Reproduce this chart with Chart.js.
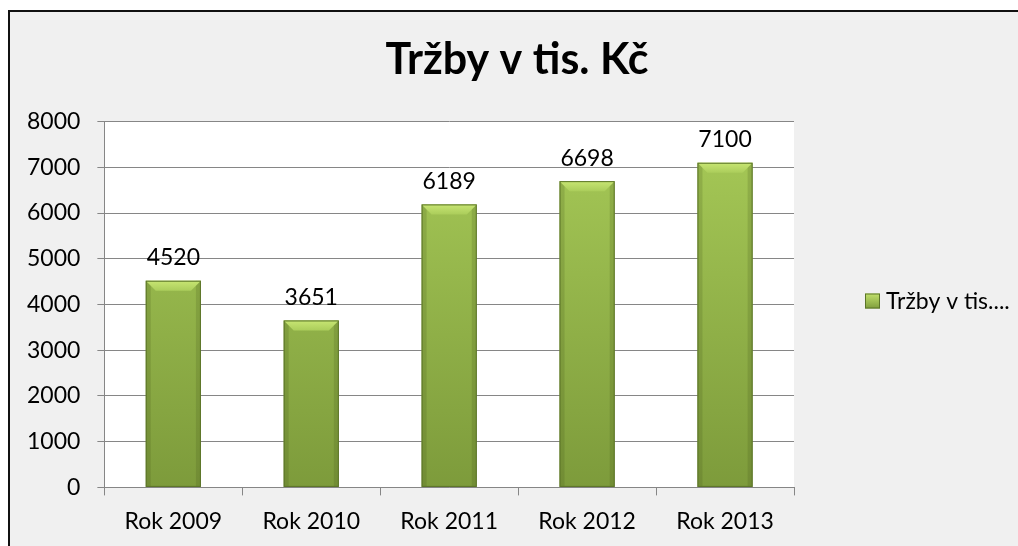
<!DOCTYPE html>
<html>
<head>
<meta charset="utf-8">
<script src="https://cdn.jsdelivr.net/npm/chart.js@4.4.1/dist/chart.umd.min.js"></script>
<style>
  html, body { margin: 0; padding: 0; background: #ffffff; overflow: hidden; }
  #frame {
    position: absolute; left: 8px; top: 10px;
    width: 1014px; height: 560px;
    border: 2px solid #111111;
    background: #f0f0f0;
  }
  #chart { display: block; }
</style>
</head>
<body>
<div id="frame"><canvas id="chart" width="1014" height="560"></canvas></div>
<script>
const categories = ['Rok 2009', 'Rok 2010', 'Rok 2011', 'Rok 2012', 'Rok 2013'];
const revenue = [4520, 3651, 6189, 6698, 7100];
const seriesName = 'Tržby v tis. Kč';
const legendText = 'Tržby v tis....';
const yMax = 8000;
const yStep = 1000;

const FONT = 'Lato, "Open Sans", sans-serif';

// white plot area behind the bars
const plotBackground = {
    id: 'plotBackground',
    beforeDraw(chart) {
        const { ctx, chartArea } = chart;
        ctx.save();
        ctx.fillStyle = '#ffffff';
        ctx.fillRect(chartArea.left, chartArea.top, chartArea.right - chartArea.left, chartArea.bottom - chartArea.top);
        ctx.restore();
    }
};

// bevel look of the excel bars
const barBevel = {
    id: 'barBevel',
    afterDatasetsDraw(chart) {
        const ctx = chart.ctx;
        const meta = chart.getDatasetMeta(0);
        meta.data.forEach(bar => {
            const left = bar.x - bar.width / 2;
            const right = bar.x + bar.width / 2;
            const top = bar.y;
            const bottom = bar.base;
            const b = 10;
            const s = 5;
            ctx.save();
            // side shading
            ctx.fillStyle = 'rgba(60, 80, 20, 0.18)';
            ctx.fillRect(left, top, s, bottom - top);
            ctx.fillRect(right - s, top, s, bottom - top);
            // top bevel
            const g = ctx.createLinearGradient(0, top, 0, top + b);
            g.addColorStop(0, '#c8e673');
            g.addColorStop(1, '#abcd5b');
            ctx.fillStyle = g;
            ctx.beginPath();
            ctx.moveTo(left, top);
            ctx.lineTo(right, top);
            ctx.lineTo(right - b, top + b);
            ctx.lineTo(left + b, top + b);
            ctx.closePath();
            ctx.fill();
            // outline
            ctx.strokeStyle = '#5b7428';
            ctx.lineWidth = 1;
            ctx.strokeRect(left + 0.5, top + 0.5, bar.width - 1, bottom - top - 1);
            ctx.restore();
        });
    }
};

// value labels above bars
const valueLabels = {
    id: 'valueLabels',
    afterDatasetsDraw(chart) {
        const ctx = chart.ctx;
        const meta = chart.getDatasetMeta(0);
        ctx.save();
        ctx.font = '23px ' + FONT;
        ctx.fillStyle = '#000000';
        ctx.textAlign = 'center';
        ctx.textBaseline = 'middle';
        meta.data.forEach((bar, i) => {
            ctx.fillText(String(chart.data.datasets[0].data[i]), bar.x, bar.y - 23);
        });
        ctx.restore();
    }
};

// legend on the right, cut off like in the original
const sideLegend = {
    id: 'sideLegend',
    afterDraw(chart) {
        const { ctx, chartArea } = chart;
        const x = chartArea.right + 71;
        const y = (chartArea.top + chartArea.bottom) / 2 - 4;
        ctx.save();
        const g = ctx.createLinearGradient(0, y - 7, 0, y + 8);
        g.addColorStop(0, '#c2e16c');
        g.addColorStop(1, '#7f9d3c');
        ctx.fillStyle = g;
        ctx.fillRect(x, y - 7, 15, 15);
        ctx.strokeStyle = '#5b7428';
        ctx.strokeRect(x + 0.5, y - 6.5, 14, 14);
        ctx.font = '23px ' + FONT;
        ctx.fillStyle = '#000000';
        ctx.textBaseline = 'middle';
        ctx.fillText(legendText, x + 21, y + 1);
        ctx.restore();
    }
};

function barFill(context) {
    const area = context.chart.chartArea;
    if (!area) return '#9bbb59';
    const g = context.chart.ctx.createLinearGradient(0, area.top, 0, area.bottom);
    g.addColorStop(0, '#a8cb58');
    g.addColorStop(1, '#7d9b3b');
    return g;
}

new Chart(document.getElementById('chart'), {
    type: 'bar',
    data: {
        labels: categories,
        datasets: [{
            label: seriesName,
            data: revenue,
            backgroundColor: barFill,
            borderWidth: 0,
            barPercentage: 0.4,
            categoryPercentage: 1.0
        }]
    },
    options: {
        responsive: false,
        animation: false,
        layout: {
            padding: { top: 0, left: 0, right: 0, bottom: 25 }
        },
        plugins: {
            legend: { display: false },
            tooltip: { enabled: false },
            title: {
                display: true,
                text: seriesName,
                color: '#000000',
                font: { family: FONT, size: 43, weight: 'bold' },
                padding: { top: 22, bottom: 36 }
            }
        },
        scales: {
            x: {
                offset: true,
                grid: {
                    offset: true,
                    drawOnChartArea: false,
                    drawTicks: true,
                    tickLength: 8,
                    color: '#868686'
                },
                border: { display: true, color: '#868686' },
                ticks: {
                    color: '#000000',
                    padding: 12,
                    font: { family: FONT, size: 23 }
                }
            },
            y: {
                min: 0,
                max: yMax,
                grid: {
                    color: '#868686',
                    tickLength: 7
                },
                border: { display: true, color: '#868686' },
                ticks: {
                    stepSize: yStep,
                    color: '#000000',
                    padding: 17,
                    font: { family: FONT, size: 23 },
                    callback: value => String(value)
                }
            },
            // empty right axis that only reserves room for the legend
            legendSpace: {
                type: 'linear',
                position: 'right',
                display: true,
                grid: { display: false },
                border: { display: false },
                ticks: { display: false },
                afterFit(scale) { scale.width = 230; }
            }
        }
    },
    plugins: [plotBackground, barBevel, valueLabels, sideLegend]
});
</script>
</body>
</html>
